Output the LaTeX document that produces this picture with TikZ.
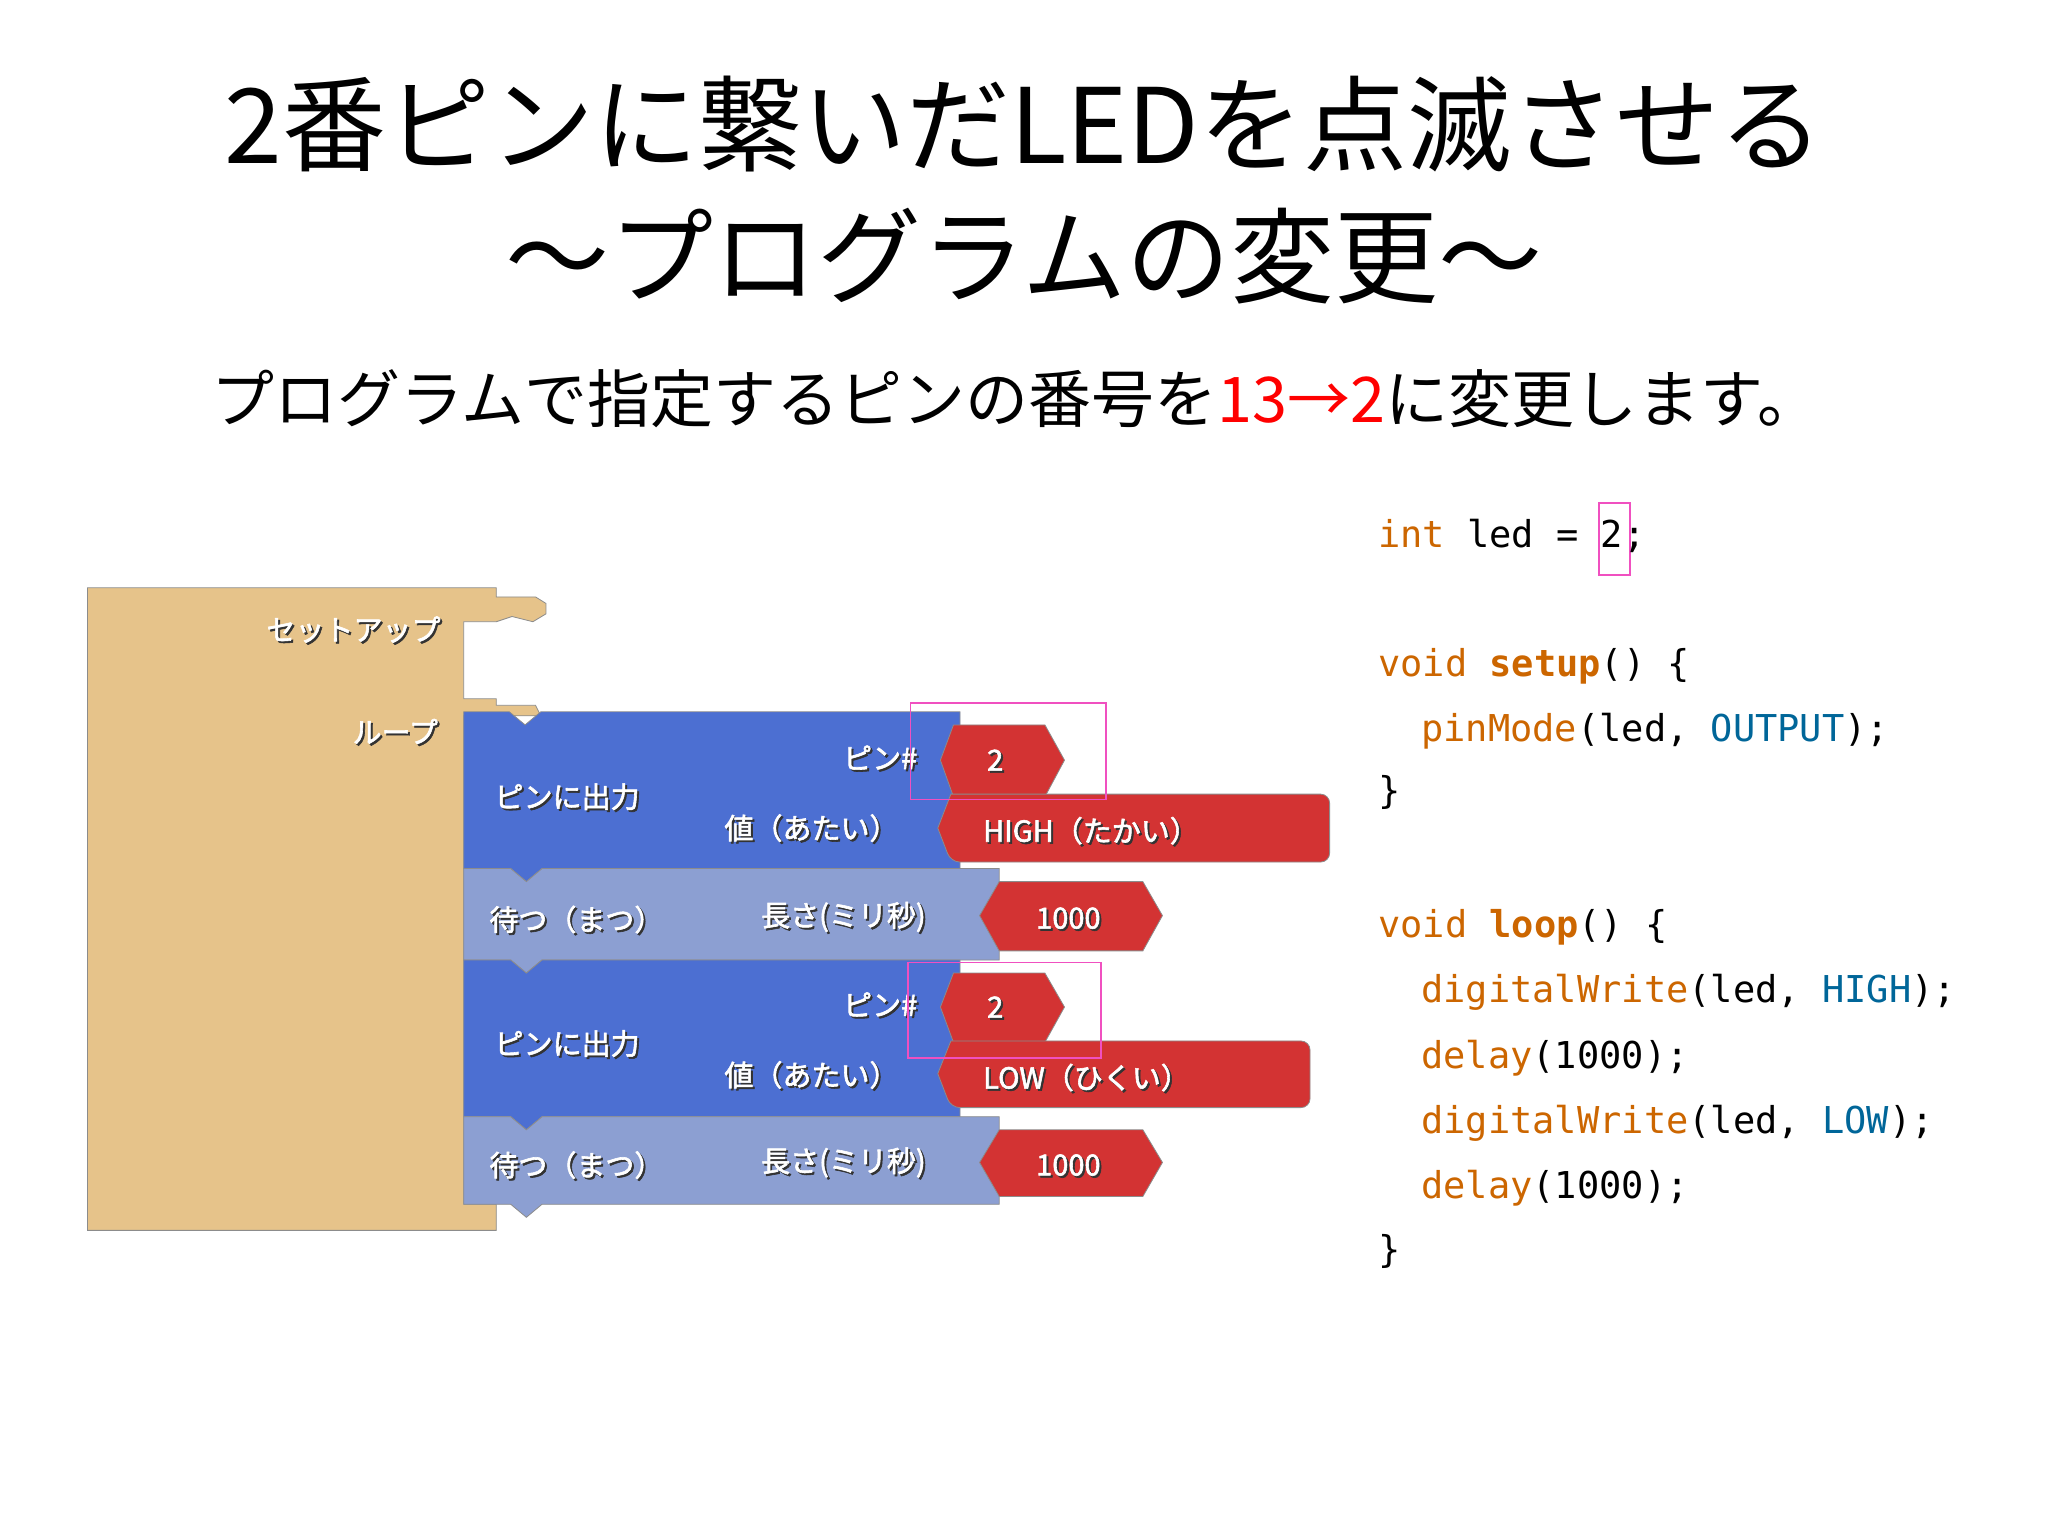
\documentclass[tikz,border=0pt]{standalone}
\usepackage{fontspec}
\setmainfont{Noto Sans CJK JP}
\newfontfamily\cjkb{Noto Sans CJK JP}[FakeBold=2]
\setmonofont{DejaVu Sans Mono}
\definecolor{tan}{HTML}{E6C38A}
\definecolor{blu}{HTML}{4C6FD2}
\definecolor{gbl}{HTML}{8C9FD2}
\definecolor{rd}{HTML}{D33333}
\definecolor{ora}{HTML}{CC6600}
\definecolor{cbl}{HTML}{006699}
\definecolor{pnk}{HTML}{F050C0}
\newcommand{\blab}[4]{\node[anchor=#4,text=black!80] at ($(#1,#2)+(1.5,1.5)$) {\cjkb\fontsize{29}{31}\selectfont #3};\node[anchor=#4,text=white] at (#1,#2) {\cjkb\fontsize{29}{31}\selectfont #3};}
\usetikzlibrary{calc}
\begin{document}
\begin{tikzpicture}[x=1.306pt,y=-1.306pt,
  edge/.style={draw=black!45,line width=0.8pt},
  pbox/.style={draw=pnk,line width=1.6pt},
  code/.style={anchor=west,inner sep=0pt,font=\ttfamily\fontsize{37}{39}\selectfont}]
\useasboundingbox (0,0) rectangle (1568,1176);
\fill[white] (0,0) rectangle (1568,1176);
% titles
\node (t1) at (784,95) {\fontsize{104}{110}\selectfont 2番ピンに繋いだLEDを点滅させる};
\node (t2) at (784,196) {\fontsize{104}{110}\selectfont ～プログラムの変更～};
\node (t3) at (778,305) {\fontsize{63}{66}\selectfont プログラムで指定するピンの番号を\textcolor{red}{13→2}に変更します。};
% tan block
\filldraw[fill=tan,edge] (67,450)--(380,450)--(380,457)--(410,457)--(418,462)--(418,470)--(408,476)--(392,472)--(380,476)--(355,476)--(355,535)--(380,535)--(380,540)--(410,540)--(414,548)--(355,548)--(355,922)--(380,922)--(380,942)--(67,942)--cycle;
% blue 1
\filldraw[fill=blu,edge] (355,545)--(390,545)--(402,555)--(414,545)--(735,545)--(735,665)--(415,665)--(403,675)--(391,665)--(355,665)--cycle;
% grey 1
\filldraw[fill=gbl,edge] (355,665)--(391,665)--(403,675)--(415,665)--(765,665)--(765,735)--(415,735)--(403,745)--(391,735)--(355,735)--cycle;
% blue 2
\filldraw[fill=blu,edge] (355,735)--(391,735)--(403,745)--(415,735)--(735,735)--(735,855)--(415,855)--(403,865)--(391,855)--(355,855)--cycle;
% grey 2
\filldraw[fill=gbl,edge] (355,855)--(391,855)--(403,865)--(415,855)--(765,855)--(765,922)--(415,922)--(403,932)--(391,922)--(355,922)--cycle;
% red inputs
\filldraw[fill=rd,edge] (730,555)--(800,555)--(815,582)--(800,610)--(730,610)--(720,582)--cycle;
\filldraw[fill=rd,edge,rounded corners=9] (728,608)--(1018,608)--(1018,660)--(728,660)[sharp corners]--(718,634)--cycle;
\filldraw[fill=rd,edge] (765,675)--(875,675)--(890,701)--(875,728)--(765,728)--(750,701)--cycle;
\filldraw[fill=rd,edge] (730,745)--(800,745)--(815,771)--(800,798)--(730,798)--(720,771)--cycle;
\filldraw[fill=rd,edge,rounded corners=9] (728,797)--(1003,797)--(1003,848)--(728,848)[sharp corners]--(718,822)--cycle;
\filldraw[fill=rd,edge] (765,865)--(875,865)--(890,890)--(875,916)--(765,916)--(750,890)--cycle;
% labels
\blab{340}{482}{セットアップ}{east}
\blab{338}{560}{ループ}{east}
\blab{376}{610}{ピンに出力}{west}
\blab{705}{580}{ピン\#}{east}
\blab{552}{634}{値（あたい）}{west}
\blab{372}{704}{待つ（まつ）}{west}
\blab{580}{702}{長さ(ミリ秒)}{west}
\blab{376}{799}{ピンに出力}{west}
\blab{705}{769}{ピン\#}{east}
\blab{552}{823}{値（あたい）}{west}
\blab{372}{892}{待つ（まつ）}{west}
\blab{580}{890}{長さ(ミリ秒)}{west}
\blab{762}{582}{2}{center}
\blab{750}{636}{HIGH（たかい）}{west}
\blab{818}{703}{1000}{center}
\blab{762}{771}{2}{center}
\blab{750}{825}{LOW（ひくい）}{west}
\blab{818}{892}{1000}{center}
% pink boxes
\draw[pbox] (697,538) rectangle (847,612);
\draw[pbox] (695,737) rectangle (843,810);
\draw[pbox] (1224,385) rectangle (1248,440);
% code
\node[code] (c1) at (1055,410) {\textcolor{ora}{int} led = 2;};
\node[code] (c2) at (1055,510) {\textcolor{ora}{void \textbf{setup}}() \{};
\node[code] (c3) at (1088,560) {\textcolor{ora}{pinMode}(led, \textcolor{cbl}{OUTPUT});};
\node[code] (c4) at (1055,607) {\}};
\node[code] (c5) at (1055,710) {\textcolor{ora}{void \textbf{loop}}() \{};
\node[code] (c6) at (1088,760) {\textcolor{ora}{digitalWrite}(led, \textcolor{cbl}{HIGH});};
\node[code] (c7) at (1088,810) {\textcolor{ora}{delay}(1000);};
\node[code] (c8) at (1088,860) {\textcolor{ora}{digitalWrite}(led, \textcolor{cbl}{LOW});};
\node[code] (c9) at (1088,910) {\textcolor{ora}{delay}(1000);};
\node[code] (c10) at (1055,958) {\}};
\end{tikzpicture}
\end{document}
